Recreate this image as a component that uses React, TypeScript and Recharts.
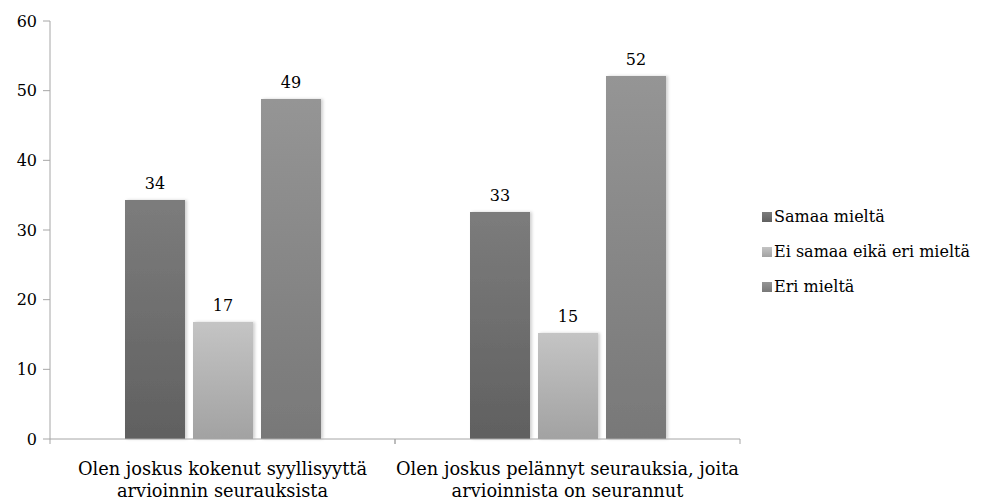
import { Bar, BarChart, LabelList, Legend, XAxis, YAxis } from "recharts"

const categories = ["Olen joskus kokenut syyllisyyttä|arvioinnin seurauksista", "Olen joskus pelännyt seurauksia, joita|arvioinnista on seurannut"]
const samaa = [34.3, 32.6]
const eiSamaa = [16.8, 15.2]
const eri = [48.8, 52.1]
const labelsSamaa = [34, 33]
const labelsEiSamaa = [17, 15]
const labelsEri = [49, 52]
const yTicks = [0, 10, 20, 30, 40, 50, 60]

const seriesNames = ["Samaa mieltä", "Ei samaa eikä eri mieltä", "Eri mieltä"]
const grads = [
  { id: "g1", top: "#7c7c7c", bottom: "#606060" },
  { id: "g2", top: "#c4c4c4", bottom: "#a2a2a2" },
  { id: "g3", top: "#959595", bottom: "#787878" },
]

const data = categories.map((c, i) => ({
  name: c,
  samaa: samaa[i],
  eiSamaa: eiSamaa[i],
  eri: eri[i],
  lSamaa: labelsSamaa[i],
  lEiSamaa: labelsEiSamaa[i],
  lEri: labelsEri[i],
}))

const FONT = "'DejaVu Serif', serif"
const FS = 16
const AXIS = "#a6a6a6"

function CategoryTick(props: any) {
  const { x, y, payload } = props
  const half = payload.offset ?? 172.5
  const lines = String(payload.value).split("|")
  return (
    <g>
      <line x1={x - half} y1={y - 8} x2={x - half} y2={y - 3} stroke={AXIS} />
      <line x1={x + half} y1={y - 8} x2={x + half} y2={y - 3} stroke={AXIS} />
      <text x={x} y={y + 28} textAnchor="middle" fontFamily={FONT} fontSize={17.8} fill="#000">
        {lines.map((l, i) => (
          <tspan key={i} x={x} dy={i === 0 ? 0 : 22}>
            {l}
          </tspan>
        ))}
      </text>
    </g>
  )
}

function LegendBox() {
  return (
    <div style={{ width: 244, paddingLeft: 22, boxSizing: "border-box", fontFamily: FONT, fontSize: FS, color: "#000" }}>
      {seriesNames.map((n, i) => (
        <div key={n} style={{ display: "flex", alignItems: "center", height: 35 }}>
          <svg width={10} height={10} style={{ marginRight: 2 }}>
            <rect width={10} height={10} fill={`url(#${grads[i].id})`} />
          </svg>
          <span style={{ fontFamily: FONT }}>{n}</span>
        </div>
      ))}
    </div>
  )
}

export default function App() {
  return (
    <div style={{ fontFamily: FONT }}>
      <style>{`body{margin:0}`}</style>
      <BarChart
        width={989}
        height={503}
        data={data}
        margin={{ top: 21, right: 5, bottom: 0, left: 8 }}
        barCategoryGap={75}
        barGap={8}
      >
        <defs>
          {grads.map((g) => (
            <linearGradient key={g.id} id={g.id} x1="0" y1="0" x2="0" y2="1">
              <stop offset="0%" stopColor={g.top} />
              <stop offset="100%" stopColor={g.bottom} />
            </linearGradient>
          ))}
          <filter id="shadow" x="-10%" y="-5%" width="130%" height="110%">
            <feDropShadow dx="2" dy="0" stdDeviation="1.5" floodColor="#000" floodOpacity="0.18" />
          </filter>
        </defs>
        <XAxis
          dataKey="name"
          stroke={AXIS}
          tickLine={false}
          height={64}
          interval={0}
          tick={<CategoryTick />}
        />
        <YAxis
          domain={[0, 60]}
          ticks={yTicks}
          width={42}
          stroke={AXIS}
          tickSize={7}
          tickMargin={6}
          tick={{ fill: "#000", fontFamily: FONT, fontSize: FS }}
        />
        <Legend layout="vertical" align="right" verticalAlign="middle" content={<LegendBox />} />
        <Bar dataKey="samaa" name={seriesNames[0]} fill="url(#g1)" filter="url(#shadow)" isAnimationActive={false}>
          <LabelList dataKey="lSamaa" position="top" offset={11} fill="#000" fontFamily={FONT} fontSize={FS} />
        </Bar>
        <Bar dataKey="eiSamaa" name={seriesNames[1]} fill="url(#g2)" filter="url(#shadow)" isAnimationActive={false}>
          <LabelList dataKey="lEiSamaa" position="top" offset={11} fill="#000" fontFamily={FONT} fontSize={FS} />
        </Bar>
        <Bar dataKey="eri" name={seriesNames[2]} fill="url(#g3)" filter="url(#shadow)" isAnimationActive={false}>
          <LabelList dataKey="lEri" position="top" offset={11} fill="#000" fontFamily={FONT} fontSize={FS} />
        </Bar>
      </BarChart>
    </div>
  )
}
